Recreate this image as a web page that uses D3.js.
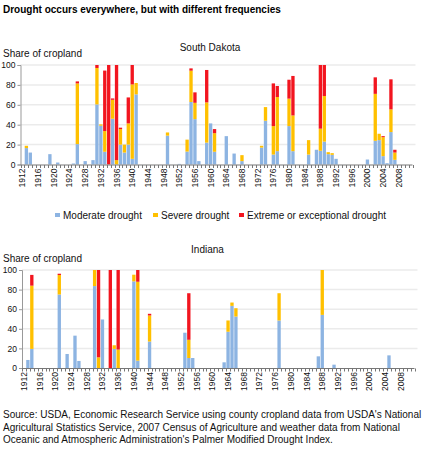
<!DOCTYPE html>
<html>
<head>
<meta charset="utf-8">
<script src="https://cdn.jsdelivr.net/npm/d3@7/dist/d3.min.js"></script>
<style>
  body { margin: 0; background: #fff; }
  svg { display: block; font-family: "Liberation Sans", Arial, sans-serif; }
</style>
</head>
<body>
<svg id="chart" width="431" height="450"></svg>
<script>
// ---- Data ----
const title = "Drought occurs everywhere, but with different frequencies";
const seriesNames = ["Moderate drought", "Severe drought", "Extreme or exceptional drought"];
const seriesColors = ["#8db4e2", "#ffc000", "#f2151f"];
const tickYears = d3.range(1912, 2009, 4);
const allYears = d3.range(1912, 2012);
const yTicks = [0, 20, 40, 60, 80, 100];

// South Dakota
const sdYears    = [1913,1914,1919,1921,1925,1926,1928,1930,1931,1932,1933,1934,1935,1936,1937,1938,1939,1940,1941,1949,1952,1954,1955,1956,1957,1959,1960,1961,1964,1966,1968,1973,1974,1976,1977,1980,1981,1985,1987,1988,1989,1990,1991,1992,2000,2002,2003,2004,2005,2006,2007];
const sdModerate = [16.5,12,10.4,2,1,20.5,3.4,4.4,60.4,39,12.8,0,46,0,20,12,20,5.7,70.5,29,0.6,13,62.8,45.6,3.4,22,41.3,12.8,28.5,11,3.4,17,44,10,13.4,38.6,13.4,10,14.8,13.8,23,10.4,9.7,5.7,5,23.8,24.5,8.4,1.3,32.6,4.7];
const sdSevere   = [2.3,0,0,0,0,61,0,0,36.6,1.3,20.8,0,19,4.4,15.6,8,21.3,74.8,11.4,3.2,0,12,31.5,16.4,0,40.4,0,18.7,0,0,6,1.8,13.7,28.6,54.4,27.6,35.9,14.5,0,22.2,45.8,2,1.7,0,0,47.2,6.4,19.1,0,22.8,7.3];
const sdExtreme  = [0,0,0,0,0,2,0,0,3,0,60.8,100,1.4,95.6,1.4,0,26.1,19.5,0,0,0,0,2.3,10.5,0,32.6,0,4.1,0,0,0,0,0,42.9,11.1,19,39.7,0,0,64,31.2,0,0,0,0,16.6,0,1,0,30.2,2.8];

// Indiana
const inYears    = [1913,1914,1921,1923,1925,1926,1930,1931,1932,1934,1935,1936,1940,1941,1944,1953,1954,1955,1963,1964,1965,1966,1977,1987,1988,1991,2005];
const inModerate = [8.2,19.5,75,14.3,33,7.2,83.6,0,49.5,0,19.5,0,88.4,7.5,27,36,10.2,10.2,5.8,37,63.4,52.5,48.5,11.9,54.2,3.4,12.9];
const inSevere   = [0,64.5,19.9,0,0,0,16.4,10.9,0,0,3.7,18.8,6.8,80.5,26.6,0,18.6,0,0,11.5,3.4,8.5,27.8,0,45.8,0,0];
const inExtreme  = [0,11,1.3,0,0,0,0,89.1,0,100,0,81.2,0,12,1.7,0,47.5,0,0,0,0,0,0,0,0,0,0];

const sourceLines = [
  "Source: USDA, Economic Research Service using county cropland data from USDA's National",
  "Agricultural Statistics Service, 2007 Census of Agriculture and weather data from National",
  "Oceanic and Atmospheric Administration's Palmer Modified Drought Index."
];

// ---- Drawing ----
const svg = d3.select("#chart");

svg.append("text").attr("x", 3).attr("y", 12.5)
  .attr("font-size", 10).attr("font-weight", "bold").attr("fill", "#000")
  .text(title);

function drawPanel(cfg) {
  const { name, years, mod, sev, ext, xRange, yRange, titleX, titleY, shareY } = cfg;
  const g = svg.append("g");
  const x = d3.scaleBand().domain(allYears).range(xRange).paddingInner(0.15).paddingOuter(0.075);
  const y = d3.scaleLinear().domain([0, 100]).range(yRange);

  g.append("text").attr("x", titleX).attr("y", titleY).attr("text-anchor", "middle")
    .attr("font-size", 10).attr("fill", "#111").text(name);
  g.append("text").attr("x", 3).attr("y", shareY)
    .attr("font-size", 10).attr("fill", "#111").text("Share of cropland");

  // gridlines
  g.append("g").selectAll("line").data(yTicks.filter(d => d > 0)).join("line")
    .attr("x1", xRange[0]).attr("x2", xRange[1] + 3)
    .attr("y1", d => y(d)).attr("y2", d => y(d))
    .attr("stroke", "#ebebeb").attr("stroke-width", 1.5);

  // y axis
  const yAxis = d3.axisLeft(y).tickValues(yTicks).tickSize(3).tickPadding(2);
  const ya = g.append("g").attr("transform", `translate(${xRange[0]},0)`).call(yAxis);
  ya.select(".domain").attr("stroke", "#999");
  ya.selectAll(".tick line").attr("stroke", "#999");
  ya.selectAll(".tick text").attr("font-size", 8.5).attr("fill", "#111")
    .attr("font-family", '"Liberation Sans", Arial, sans-serif');

  // stacked bars
  const rows = years.map((yr, i) => ({ year: yr, m: mod[i], s: sev[i], e: ext[i] }));
  const stack = d3.stack().keys(["m", "s", "e"])(rows);
  g.append("g").selectAll("g").data(stack).join("g")
    .attr("fill", (d, i) => seriesColors[i])
    .selectAll("rect").data(d => d.filter(p => p[1] - p[0] > 0)).join("rect")
    .attr("x", d => x(d.data.year))
    .attr("width", x.bandwidth())
    .attr("y", d => y(d[1]))
    .attr("height", d => y(d[0]) - y(d[1]));

  // x axis
  const xa = g.append("g").attr("transform", `translate(0,${yRange[0]})`);
  xa.append("line").attr("x1", xRange[0]).attr("x2", xRange[1])
    .attr("y1", 0.5).attr("y2", 0.5).attr("stroke", "#777");
  const step = x.step();
  const bounds = d3.range(0, allYears.length + 1).map(i => xRange[0] + i * (xRange[1] - xRange[0]) / allYears.length);
  xa.selectAll("line.tk").data(bounds).join("line").attr("class", "tk")
    .attr("x1", d => Math.round(d) + 0.5).attr("x2", d => Math.round(d) + 0.5)
    .attr("y1", 0.5).attr("y2", 3.5).attr("stroke", "#777");
  xa.selectAll("text").data(tickYears).join("text")
    .attr("transform", d => `translate(${x(d) + x.bandwidth() / 2},4) rotate(-90)`)
    .attr("text-anchor", "end").attr("dy", "0.35em")
    .attr("font-size", 8.5).attr("fill", "#111").text(d => d);
}

drawPanel({ name: "South Dakota", years: sdYears, mod: sdModerate, sev: sdSevere, ext: sdExtreme,
  xRange: [20.5, 412.5], yRange: [164.5, 65], titleX: 210, titleY: 50.5, shareY: 57 });
drawPanel({ name: "Indiana", years: inYears, mod: inModerate, sev: inSevere, ext: inExtreme,
  xRange: [22, 414.5], yRange: [368, 270], titleX: 207.5, titleY: 252.5, shareY: 262 });

// legend
const legendX = [55, 153, 239];
const lg = svg.append("g");
seriesNames.forEach((n, i) => {
  lg.append("rect").attr("x", legendX[i]).attr("y", 213).attr("width", 5).attr("height", 4)
    .attr("fill", seriesColors[i]);
  lg.append("text").attr("x", legendX[i] + 8).attr("y", 218.5)
    .attr("font-size", 10).attr("fill", "#111").text(n);
});

// source
svg.append("g").selectAll("text").data(sourceLines).join("text")
  .attr("x", 3).attr("y", (d, i) => 418 + i * 12.5)
  .attr("font-size", 10).attr("fill", "#111").text(d => d);
</script>
</body>
</html>
